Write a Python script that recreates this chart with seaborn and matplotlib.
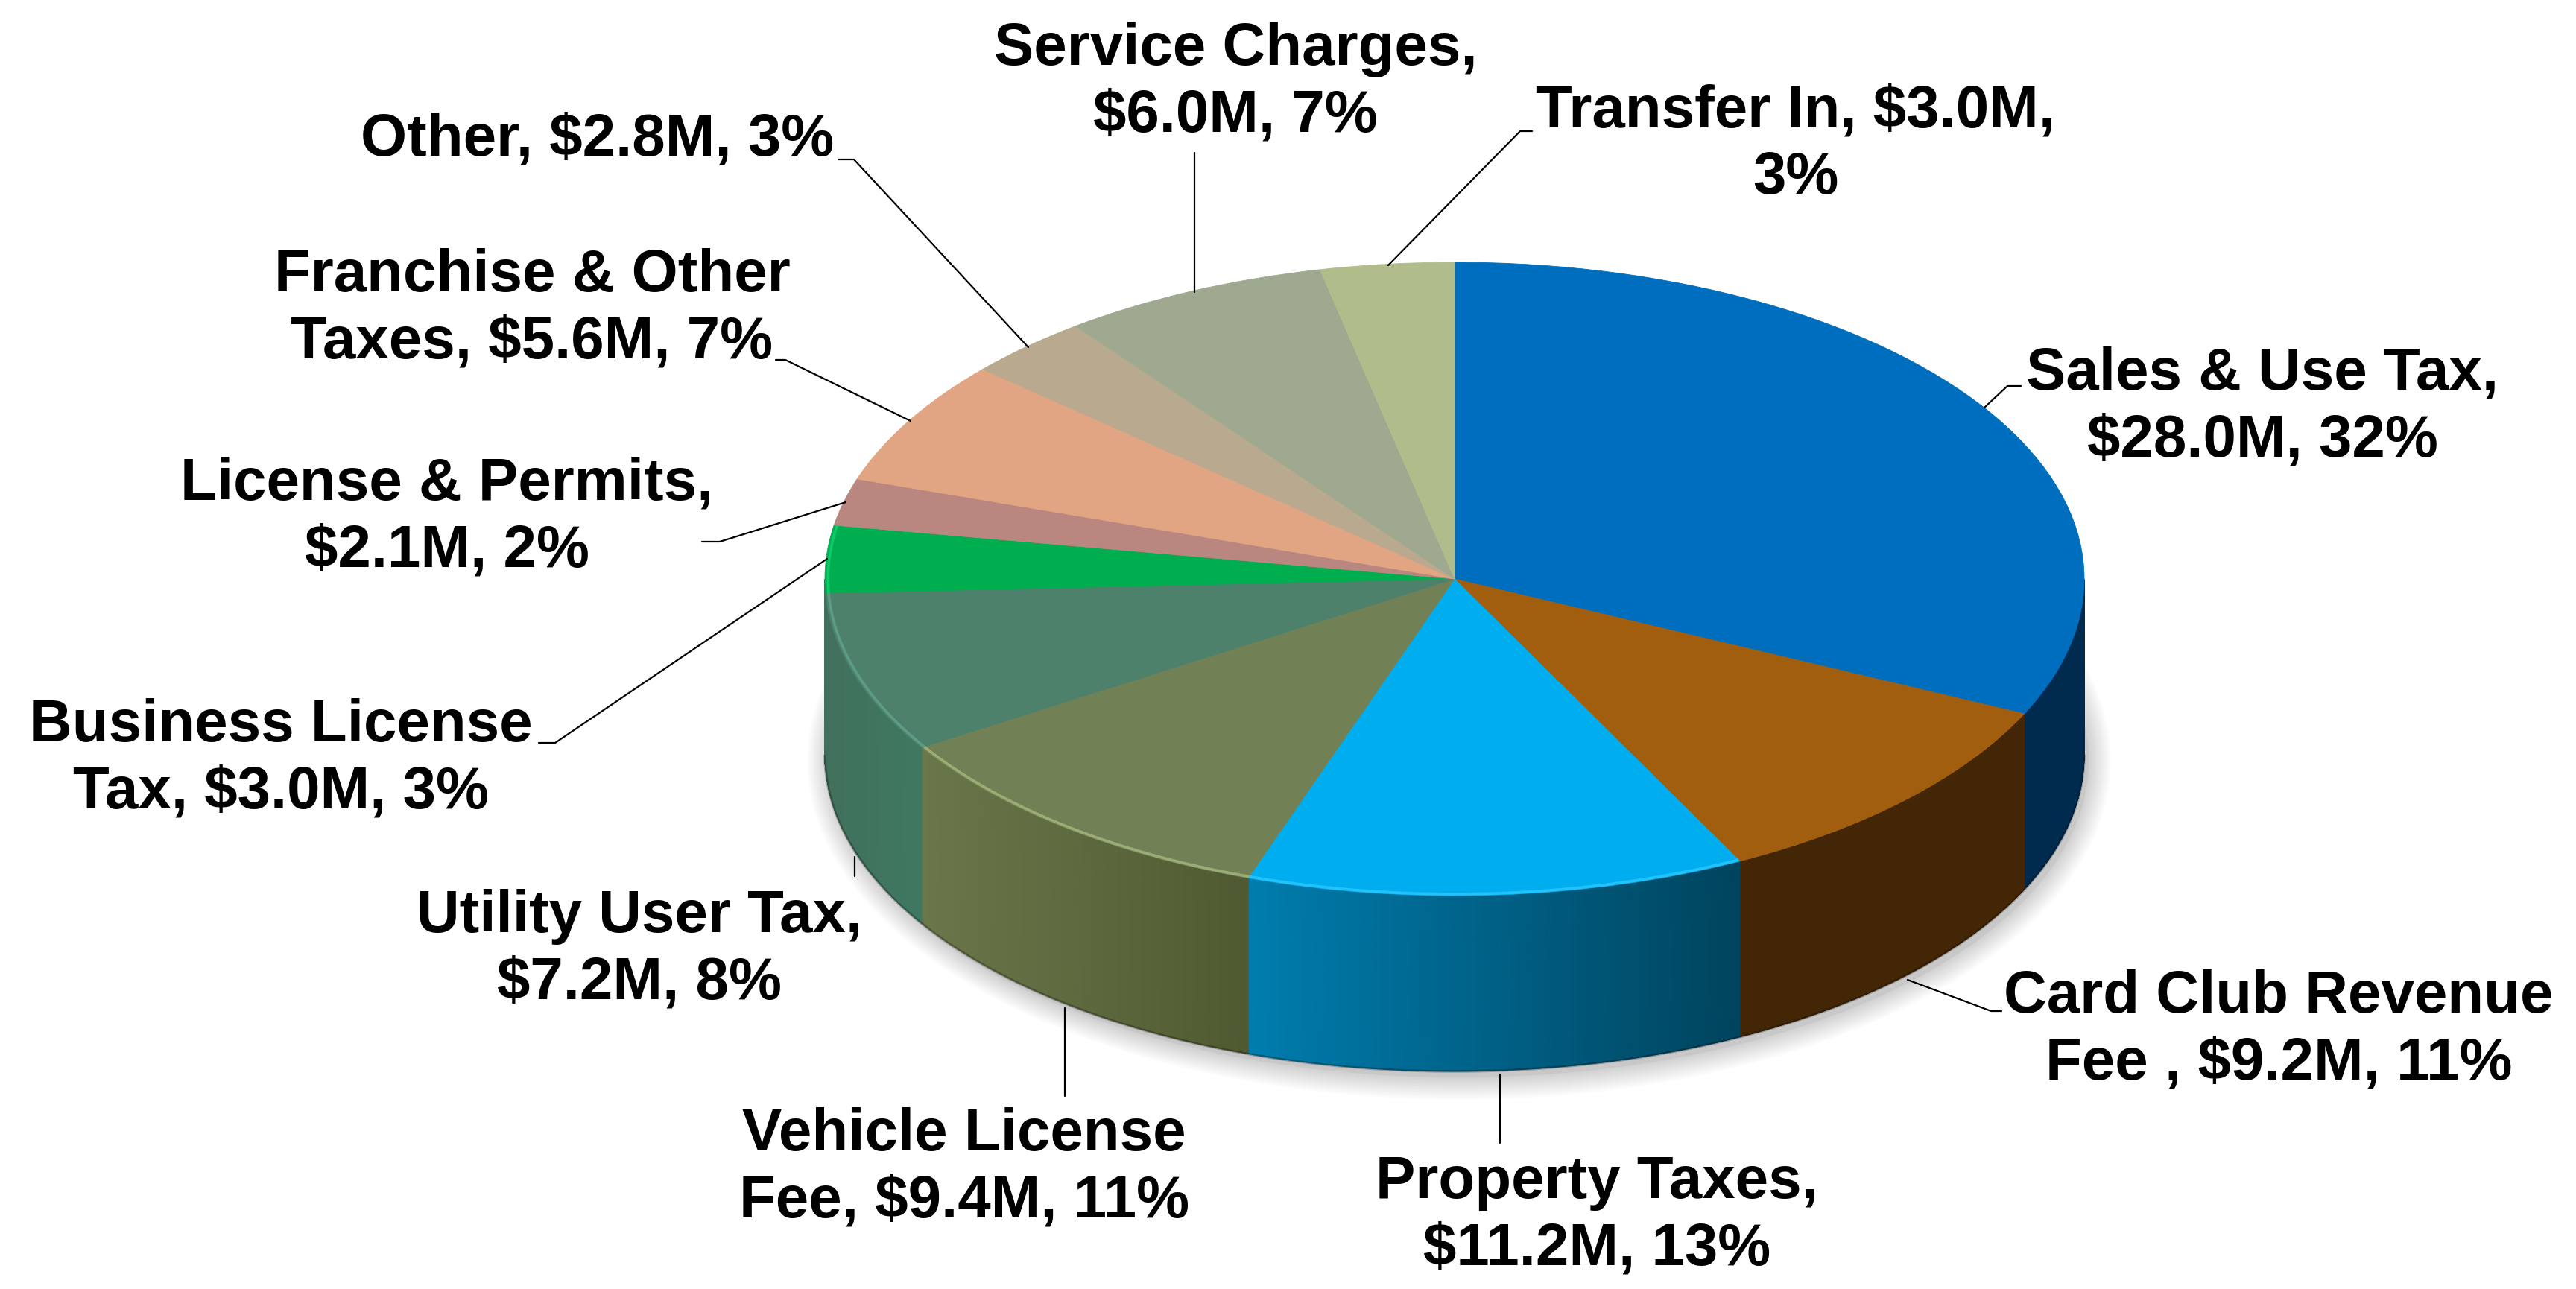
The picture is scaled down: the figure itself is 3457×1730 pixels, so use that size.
import numpy as np
import matplotlib
matplotlib.use("Agg")
import matplotlib.pyplot as plt
from matplotlib.patches import Ellipse
import seaborn as sns

# Data
categories = ["Sales & Use Tax", "Card Club Revenue Fee", "Property Taxes", "Vehicle License Fee",
              "Utility User Tax", "Business License Tax", "License & Permits",
              "Franchise & Other Taxes", "Other", "Service Charges", "Transfer In"]
values = [28.0, 9.2, 11.2, 9.4, 7.2, 3.0, 2.1, 5.6, 2.8, 6.0, 3.0]
labels = ["Sales & Use Tax,\n$28.0M, 32%", "Card Club Revenue\nFee , $9.2M, 11%",
          "Property Taxes,\n$11.2M, 13%", "Vehicle License\nFee, $9.4M, 11%",
          "Utility User Tax,\n$7.2M, 8%", "Business License\nTax, $3.0M, 3%",
          "License & Permits,\n$2.1M, 2%", "Franchise & Other\nTaxes, $5.6M, 7%",
          "Other, $2.8M, 3%", "Service Charges,\n$6.0M, 7%", "Transfer In, $3.0M,\n3%"]
top_colors = ["#006EBF", "#A05E0E", "#00AEEF", "#728155", "#4E816B", "#00AE50",
              "#BA8680", "#E2A583", "#B8A98F", "#9FA990", "#B0BD8B"]
# wall colour at the left and right end of each visible slice
wall_left = ["#002B4F", "#432606", "#007DAE", "#6A774A", "#41705C", "#41705C"]
wall_right = ["#002B4F", "#432606", "#00445E", "#505A32", "#3F7861", "#41705C"]
rim_colors = {2: "#2CC8FF", 3: "#A6B87E", 4: "#62A38B", 5: "#12D070"}

# Layout in reference pixels
W, H = 3457, 1730
cx, cy, rx, ry, depth = 1952, 777, 845, 425, 236

label_pos = [(3036, 547), (3058, 1383), (2143, 1632), (1294, 1568), (858, 1275), (377, 1019),
             (600, 695), (714, 415), (802, 188), (1658, 111), (2410, 195)]
leaders = [[(2663, 547), (2694, 518), (2712, 518)],
           [(2560, 1315), (2672, 1357), (2686, 1357)],
           [(2013, 1442), (2013, 1534)],
           [(1429, 1353), (1429, 1471)],
           [(1147, 1150), (1147, 1176)],
           [(1110, 750), (745, 997), (723, 997)],
           [(1135, 674), (966, 727), (942, 727)],
           [(1222, 565), (1054, 483), (1041, 483)],
           [(1380, 466), (1146, 214), (1125, 214)],
           [(1603, 392), (1603, 205)],
           [(1863, 356), (2040, 176), (2056, 176)]]

sns.set_theme(style="white")
plt.rcParams["font.family"] = ["Liberation Sans", "DejaVu Sans"]

fig = plt.figure(figsize=(W / 100, H / 100), dpi=100)

# pixel axes below the pie: shadow and side walls
base = fig.add_axes([0, 0, 1, 1], zorder=1)
base.set_xlim(0, W)
base.set_ylim(H, 0)
base.axis("off")

for s in range(30, 0, -2):
    base.add_patch(Ellipse((cx + 6, cy + depth + 8), 2 * (rx + s), 2 * (ry + s),
                           facecolor="#000000", edgecolor="none", alpha=0.012))
base.add_patch(Ellipse((cx + 6, cy + depth + 8), 2 * rx, 2 * ry, facecolor="#C8C8C8", edgecolor="none"))

total = sum(values)
edges = np.concatenate([[0], np.cumsum(values)]) / total * 360

for i in range(len(wall_left)):
    a0 = max(edges[i], 90)
    a1 = min(edges[i + 1], 270)
    if a1 <= a0:
        continue
    ang = np.radians(np.linspace(a0, a1, 80))
    x = cx + rx * np.sin(ang)
    y = cy - ry * np.cos(ang)
    # colours run left to right across the slice, like the reference
    cmap = sns.blend_palette([wall_left[i], wall_right[i]], as_cmap=True)
    t = (x - x.min()) / (x.max() - x.min())
    base.pcolormesh(np.vstack([x, x]), np.vstack([y, y + depth]), np.vstack([t, t]),
                    cmap=cmap, vmin=0, vmax=1, shading="gouraud")
    base.plot(x, y + depth, color="black", alpha=0.25, lw=2.5, solid_capstyle="butt")

# top face: a normal pie squeezed into the ellipse box
pie_ax = fig.add_axes([(cx - rx) / W, 1 - (cy + ry) / H, 2 * rx / W, 2 * ry / H], zorder=2)
wedges, _ = pie_ax.pie(values, colors=top_colors, startangle=90, counterclock=False, radius=1)
for w, c in zip(wedges, top_colors):
    w.set_edgecolor(c)
    w.set_linewidth(0.6)
pie_ax.set_aspect("auto")
pie_ax.set_xlim(-1, 1)
pie_ax.set_ylim(-1, 1)
pie_ax.axis("off")

for i, c in rim_colors.items():
    ang = np.radians(np.linspace(edges[i], edges[i + 1], 60))
    pie_ax.plot(0.995 * np.sin(ang), 0.995 * np.cos(ang), color=c, lw=2.6, alpha=0.8,
                clip_on=False, solid_capstyle="butt")

# labels and leader lines on top
over = fig.add_axes([0, 0, 1, 1], zorder=3)
over.set_xlim(0, W)
over.set_ylim(H, 0)
over.axis("off")

for pts in leaders:
    xs, ys = zip(*pts)
    over.plot(xs, ys, color="black", lw=1.6)

for text, (x, y) in zip(labels, label_pos):
    over.text(x, y, text, ha="center", va="center", fontsize=57.5, fontweight="bold",
              color="black", linespacing=1.25)

fig.savefig("out.png", dpi=100, facecolor="white")
